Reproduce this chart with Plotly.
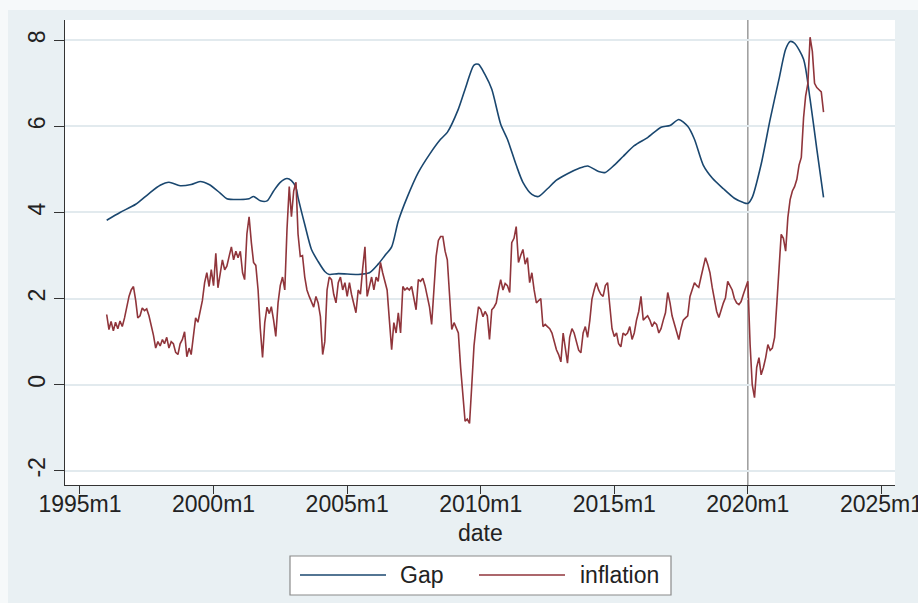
import pandas as pd
import plotly.graph_objects as go

# Monthly inflation, 1996m1 .. 2022m11 (one row per year)
inflation = [
    1.63, 1.28, 1.47, 1.25, 1.45, 1.30, 1.48, 1.35, 1.55, 1.80, 2.05, 2.20,   # 1996
    2.28, 1.95, 1.55, 1.60, 1.78, 1.72, 1.76, 1.60, 1.40, 1.15, 0.85, 1.00,   # 1997
    0.90, 1.05, 0.95, 1.10, 0.85, 1.00, 0.95, 0.75, 0.70, 0.95, 1.05, 1.23,   # 1998
    0.65, 0.85, 0.70, 1.20, 1.55, 1.45, 1.67, 1.95, 2.37, 2.60, 2.28, 2.67,   # 1999
    2.30, 3.05, 2.25, 2.60, 2.90, 2.67, 2.75, 2.98, 3.20, 2.90, 3.10, 2.95,   # 2000
    3.10, 2.60, 2.44, 3.50, 3.90, 3.30, 2.84, 2.77, 2.20, 1.30, 0.63, 1.44,   # 2001
    1.80, 1.65, 1.81, 1.50, 1.12, 1.90, 2.30, 2.50, 2.20, 3.60, 4.60, 3.90,   # 2002
    4.50, 4.70, 3.50, 2.98, 3.00, 2.50, 2.20, 2.05, 1.90, 1.80, 2.05, 1.90,   # 2003
    1.58, 0.70, 1.00, 2.20, 2.50, 2.44, 2.10, 1.90, 2.37, 2.50, 2.20, 2.37,   # 2004
    2.05, 2.37, 2.10, 1.90, 1.67, 2.20, 2.10, 2.70, 3.20, 2.05, 2.30, 2.50,   # 2005
    2.20, 2.50, 2.40, 2.84, 2.60, 2.37, 2.20, 1.50, 0.81, 1.44, 1.20, 1.67,   # 2006
    1.20, 2.28, 2.20, 2.25, 2.20, 2.28, 2.00, 1.74, 2.44, 2.40, 2.47, 2.30,   # 2007
    2.05, 1.80, 1.40, 2.20, 2.98, 3.35, 3.44, 3.44, 3.10, 2.90, 2.00, 1.28,   # 2008
    1.44, 1.30, 1.20, 0.40, -0.20, -0.85, -0.80, -0.90, 0.00, 0.90, 1.40, 1.81,  # 2009
    1.75, 1.58, 1.70, 1.60, 1.05, 1.74, 1.80, 1.90, 2.20, 2.44, 2.20, 2.35,   # 2010
    2.30, 2.14, 3.30, 3.40, 3.67, 2.84, 3.00, 3.14, 2.80, 2.95, 2.37, 2.60,   # 2011
    2.20, 1.90, 1.95, 2.00, 1.35, 1.40, 1.35, 1.30, 1.20, 1.00, 0.81, 0.70,   # 2012
    0.53, 1.20, 0.90, 0.50, 1.10, 1.30, 1.20, 1.00, 0.80, 0.74, 1.20, 1.35,   # 2013
    1.10, 1.50, 1.98, 2.20, 2.37, 2.20, 2.10, 2.05, 2.30, 2.37, 1.90, 1.30,   # 2014
    1.12, 1.20, 0.95, 0.88, 1.20, 1.15, 1.20, 1.35, 1.05, 1.20, 1.50, 1.70,   # 2015
    2.05, 1.50, 1.55, 1.60, 1.50, 1.35, 1.45, 1.40, 1.20, 1.30, 1.50, 1.67,   # 2016
    2.14, 1.90, 1.60, 1.40, 1.20, 1.05, 1.30, 1.50, 1.55, 1.60, 2.05, 2.20,   # 2017
    2.37, 2.30, 2.26, 2.50, 2.74, 2.95, 2.80, 2.60, 2.26, 2.00, 1.70, 1.56,   # 2018
    1.75, 1.90, 2.02, 2.40, 2.30, 2.20, 2.00, 1.90, 1.86, 1.93, 2.10, 2.25,   # 2019
    2.40, 0.93, 0.00, -0.30, 0.40, 0.63, 0.23, 0.40, 0.63, 0.93, 0.80, 0.85,  # 2020
    1.10, 1.90, 2.60, 3.49, 3.40, 3.10, 3.88, 4.30, 4.50, 4.60, 4.77, 5.10,   # 2021
    5.28, 6.20, 6.70, 7.00, 8.07, 7.74, 7.00, 6.90, 6.85, 6.80, 6.33,         # 2022
]
inflation_start = "1996-01-01"

# Gap series (smooth), observed months and values
gap_dates = [
    "1996-01", "1996-07", "1997-02", "1997-08", "1998-01", "1998-05", "1998-10",
    "1999-03", "1999-07", "1999-11", "2000-04", "2000-07", "2001-01", "2001-05",
    "2001-07", "2001-10", "2002-01", "2002-04", "2002-07", "2002-10", "2002-12",
    "2003-02", "2003-03", "2003-06", "2003-09", "2003-12", "2004-03", "2004-05",
    "2004-09", "2005-06", "2005-11", "2006-03", "2006-06", "2006-09", "2006-12",
    "2007-04", "2007-09", "2008-02", "2008-07", "2008-10", "2009-03", "2009-06",
    "2009-10", "2009-12", "2010-03", "2010-06", "2010-10", "2011-01", "2011-05",
    "2011-08", "2011-12", "2012-03", "2012-07", "2012-11", "2013-04", "2013-09",
    "2014-01", "2014-06", "2014-09", "2015-01", "2015-05", "2015-10", "2016-04",
    "2016-10", "2017-02", "2017-06", "2017-10", "2018-01", "2018-05", "2018-09",
    "2019-02", "2019-07", "2019-11", "2020-01", "2020-03", "2020-07", "2020-11",
    "2021-03", "2021-06", "2021-08", "2021-10", "2022-02", "2022-05", "2022-08",
    "2022-11",
]
gap_values = [
    3.82, 4.00, 4.19, 4.44, 4.63, 4.70, 4.62,
    4.65, 4.72, 4.65, 4.45, 4.32, 4.30, 4.32,
    4.37, 4.27, 4.27, 4.50, 4.70, 4.79, 4.74,
    4.58, 4.35, 3.72, 3.14, 2.86, 2.63, 2.56,
    2.58, 2.56, 2.60, 2.80, 3.00, 3.20, 3.80,
    4.35, 4.93, 5.35, 5.70, 5.86, 6.40, 6.86,
    7.42, 7.44, 7.20, 6.86, 6.05, 5.70, 5.10,
    4.70, 4.42, 4.37, 4.55, 4.75, 4.90, 5.02,
    5.08, 4.95, 4.93, 5.10, 5.30, 5.55, 5.74,
    5.98, 6.02, 6.16, 6.00, 5.70, 5.10, 4.80,
    4.55, 4.33, 4.23, 4.21, 4.35, 5.12, 6.16,
    7.09, 7.79, 7.97, 7.93, 7.56, 6.63, 5.47,
    4.35,
]

xline_date = "2020-01-01"
tick_years = [1995, 2000, 2005, 2010, 2015, 2020, 2025]
y_ticks = [-2, 0, 2, 4, 6, 8]

GAP_COLOR = "#1a476f"
INFL_COLOR = "#90353b"
BG = "#e9f0f3"
FONT = "Liberation Sans, Arial, sans-serif"

infl_dates = pd.date_range(inflation_start, periods=len(inflation), freq="MS")
gap_x = pd.to_datetime(gap_dates)

fig = go.Figure()
fig.add_trace(go.Scatter(x=gap_x, y=gap_values, mode="lines", name="Gap",
                         line=dict(color=GAP_COLOR, width=1.6,
                                   shape="spline", smoothing=0.7)))
fig.add_trace(go.Scatter(x=infl_dates, y=inflation, mode="lines", name="inflation",
                         line=dict(color=INFL_COLOR, width=1.6)))

fig.add_shape(type="line", xref="x", yref="paper", x0=xline_date, x1=xline_date,
              y0=0, y1=1, line=dict(color="#8c8c8c", width=1.3), layer="below")

# Pixel-to-paper helpers for the axis title and boxed legend
L, R, T, B = 65, 895, 20, 485
W, H = R - L, B - T


def px(x):
    return (x - L) / W


def py(y):
    return (B - y) / H


# pale outer frame along the top and left edges of the graph region
fig.add_shape(type="rect", xref="paper", yref="paper", layer="below",
              x0=px(0), x1=px(918), y0=py(10), y1=py(0),
              line=dict(width=0), fillcolor="#f6f9fa")
fig.add_shape(type="rect", xref="paper", yref="paper", layer="below",
              x0=px(0), x1=px(8), y0=py(603), y1=py(0),
              line=dict(width=0), fillcolor="#f6f9fa")

# x-axis title
fig.add_annotation(xref="paper", yref="paper", x=0.5, y=py(533), text="date",
                   showarrow=False, xanchor="center", yanchor="middle",
                   font=dict(family=FONT, size=23, color="#222"))

fig.add_shape(type="rect", xref="paper", yref="paper",
              x0=px(290), x1=px(671), y0=py(595), y1=py(556),
              line=dict(color="#8a8a8a", width=1.2), fillcolor="white")
fig.add_shape(type="line", xref="paper", yref="paper",
              x0=px(300), x1=px(386), y0=py(575), y1=py(575),
              line=dict(color=GAP_COLOR, width=1.6))
fig.add_shape(type="line", xref="paper", yref="paper",
              x0=px(479), x1=px(565), y0=py(575), y1=py(575),
              line=dict(color=INFL_COLOR, width=1.6))
fig.add_annotation(xref="paper", yref="paper", x=px(398), y=py(575), text="Gap",
                   showarrow=False, xanchor="left", yanchor="middle",
                   font=dict(family=FONT, size=23, color="#222"))
fig.add_annotation(xref="paper", yref="paper", x=px(578), y=py(575), text="inflation",
                   showarrow=False, xanchor="left", yanchor="middle",
                   font=dict(family=FONT, size=23, color="#222"))

fig.update_layout(
    width=918, height=603,
    margin=dict(l=L, r=918 - R, t=T, b=603 - B),
    paper_bgcolor=BG, plot_bgcolor="white",
    showlegend=False,
    font=dict(family=FONT, size=23, color="#222"),
)
fig.update_xaxes(
    range=["1994-06-10", "2025-07-05"],
    tickvals=[f"{y}-01-01" for y in tick_years],
    ticktext=[f"{y}m1" for y in tick_years],
    ticks="outside", ticklen=8, tickcolor="#333", tickwidth=1.2,
    ticklabeloverflow="allow", ticklabelstandoff=-10,
    automargin=False,
    showline=True, linecolor="#333", linewidth=1.2,
    showgrid=False, zeroline=False,
    tickfont=dict(size=23),
)
fig.update_yaxes(
    range=[-2.33, 8.47],
    tickvals=y_ticks, ticktext=[str(v) for v in y_ticks],
    tickangle=-90, automargin=False,
    ticks="outside", ticklen=10, tickcolor="#333", tickwidth=1.2,
    showline=True, linecolor="#333", linewidth=1.2,
    showgrid=True, gridcolor="#e2eaee", gridwidth=1.5,
    zeroline=False,
    tickfont=dict(size=23),
)

fig.write_html("out.html")
